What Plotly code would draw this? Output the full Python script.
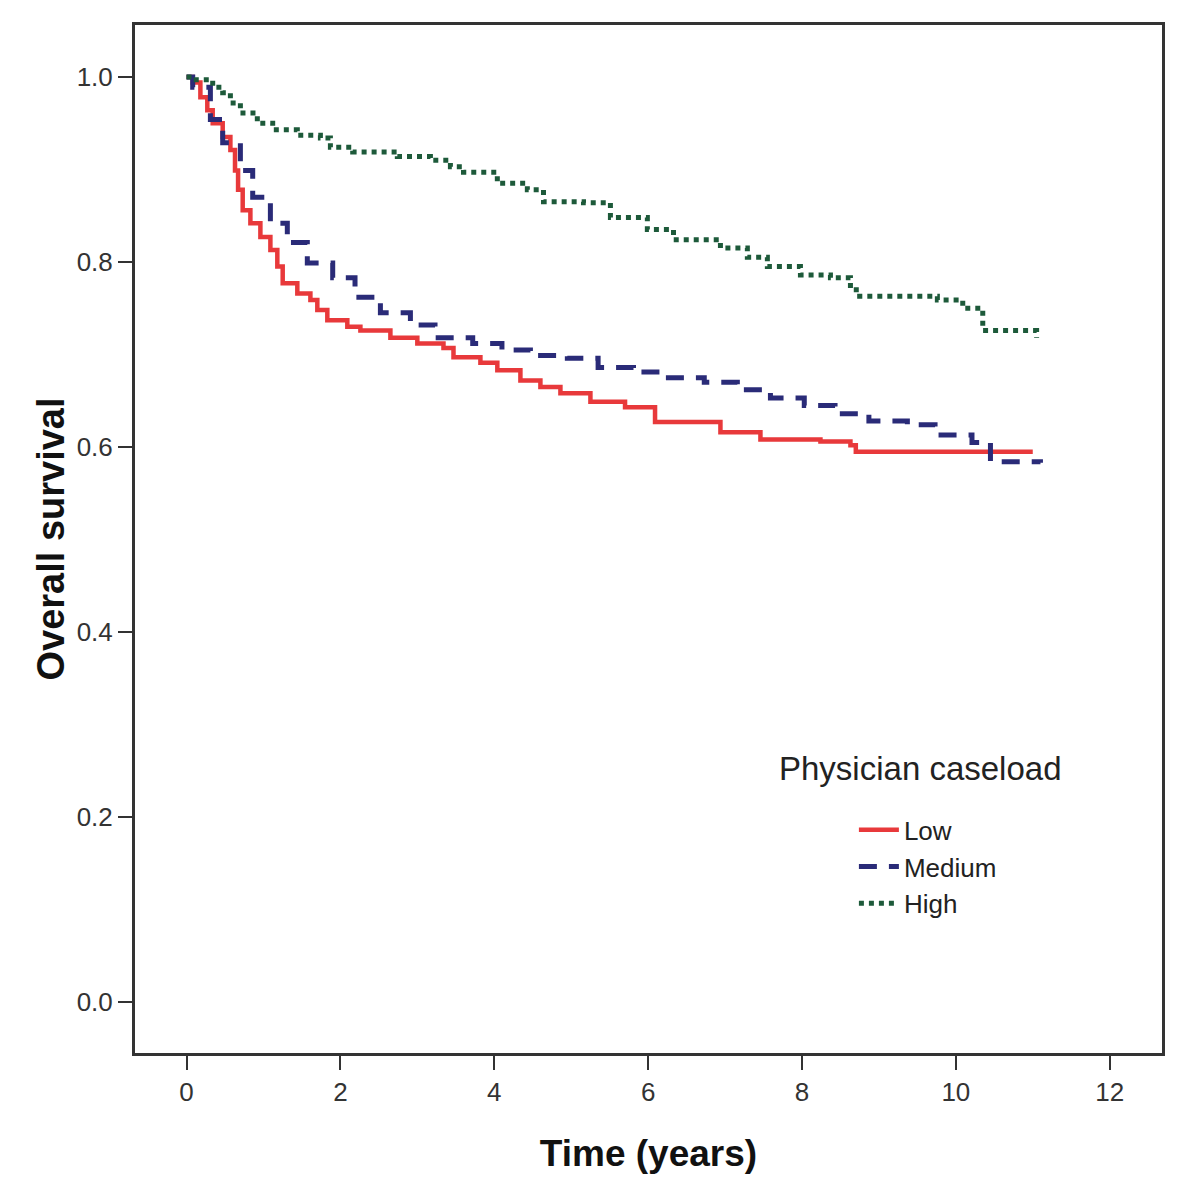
import plotly.graph_objects as go

# Kaplan-Meier style survival estimates
low_t = [0, 0.08, 0.18, 0.27, 0.34, 0.47, 0.57, 0.63, 0.67, 0.73, 0.83, 0.96, 1.09, 1.18, 1.25, 1.44, 1.61,
         1.70, 1.83, 2.09, 2.26, 2.65, 3.00, 3.34, 3.47, 3.82, 4.04, 4.34, 4.60, 4.86, 5.25, 5.70, 6.09,
         6.68, 6.94, 7.46, 8.24, 8.63, 8.70, 11.0]
low_s = [1.0, 0.994, 0.978, 0.964, 0.950, 0.935, 0.921, 0.899, 0.878, 0.856, 0.842, 0.827, 0.813, 0.795, 0.777,
         0.766, 0.759, 0.748, 0.737, 0.730, 0.726, 0.718, 0.712, 0.707, 0.697, 0.691, 0.683, 0.672, 0.665, 0.658,
         0.649, 0.643, 0.627, 0.627, 0.616, 0.608, 0.606, 0.602, 0.595, 0.595]

med_t = [0, 0.08, 0.31, 0.47, 0.70, 0.86, 1.09, 1.31, 1.57, 1.90, 2.19, 2.52, 2.91, 3.23, 3.72, 4.10, 4.47,
         4.95, 5.35, 5.81, 6.22, 6.73, 7.16, 7.59, 8.03, 8.43, 8.87, 9.37, 9.73, 10.21, 10.45, 11.1]
med_s = [1.0, 0.989, 0.954, 0.929, 0.899, 0.870, 0.842, 0.821, 0.799, 0.783, 0.762, 0.745, 0.732, 0.718, 0.712,
         0.705, 0.699, 0.696, 0.686, 0.681, 0.675, 0.670, 0.662, 0.653, 0.645, 0.636, 0.628, 0.624, 0.613, 0.605,
         0.584, 0.583]

high_t = [0, 0.08, 0.34, 0.47, 0.57, 0.70, 0.92, 1.12, 1.44, 1.74, 1.87, 2.16, 2.74, 3.17, 3.43, 3.60, 4.04,
          4.43, 4.64, 5.16, 5.51, 5.99, 6.33, 6.94, 7.29, 7.55, 7.98, 8.37, 8.63, 8.75, 9.27, 9.76, 10.09,
          10.35, 11.05]
high_s = [1.0, 0.997, 0.989, 0.983, 0.972, 0.961, 0.950, 0.943, 0.937, 0.934, 0.924, 0.919, 0.914, 0.910, 0.903,
          0.897, 0.885, 0.878, 0.865, 0.864, 0.848, 0.835, 0.824, 0.815, 0.805, 0.795, 0.786, 0.783, 0.770, 0.763,
          0.763, 0.759, 0.750, 0.726, 0.718]

series_names = ["Low", "Medium", "High"]
legend_title = "Physician caseload"
x_ticks = [0, 2, 4, 6, 8, 10, 12]
y_ticks = [0.0, 0.2, 0.4, 0.6, 0.8, 1.0]
y_tick_labels = ["0.0", "0.2", "0.4", "0.6", "0.8", "1.0"]

fig = go.Figure()
fig.add_trace(go.Scatter(x=low_t, y=low_s, name=series_names[0], mode="lines", line_shape="hv",
                         line=dict(color="#e8393b", width=4.5)))
fig.add_trace(go.Scatter(x=med_t, y=med_s, name=series_names[1], mode="lines", line_shape="hv",
                         line=dict(color="#2a2b78", width=5, dash="18px,12px")))
fig.add_trace(go.Scatter(x=high_t, y=high_s, name=series_names[2], mode="lines", line_shape="hv",
                         line=dict(color="#1d5a3a", width=5, dash="5px,5px")))

axis_common = dict(showline=True, linecolor="#333333", linewidth=3, mirror=True, showgrid=False,
                   zeroline=False, ticks="outside", ticklen=14, tickwidth=2, tickcolor="#333333")

fig.update_xaxes(range=[-0.67, 12.68], tickvals=x_ticks,
                 tickfont=dict(family="Liberation Sans", size=26, color="#333333"),
                 title=dict(text="<b>Time (years)</b>",
                            font=dict(family="Liberation Sans", size=37, color="#111111"), standoff=34),
                 **axis_common)
fig.update_yaxes(range=[-0.0551, 1.0562], tickvals=y_ticks, ticktext=y_tick_labels,
                 tickfont=dict(family="Liberation Sans", size=26, color="#333333"),
                 title=dict(text="<b>Overall survival</b>",
                            font=dict(family="Liberation Sans", size=38, color="#111111"), standoff=1),
                 **axis_common)

fig.add_annotation(text=legend_title, xref="paper", yref="paper",
                   x=(920 - 135) / 1027, y=(1053 - 768) / 1028, xanchor="center", yanchor="middle",
                   showarrow=False, font=dict(family="Liberation Sans", size=33, color="#222222"))

fig.update_layout(
    width=1192, height=1179,
    margin=dict(l=127, r=38, t=17, b=134),
    paper_bgcolor="white", plot_bgcolor="white",
    legend=dict(x=0.70, y=0.24, xanchor="left", yanchor="top",
                font=dict(family="Liberation Sans", size=26, color="#222222"),
                bgcolor="rgba(0,0,0,0)", itemwidth=40),
    showlegend=True,
)

fig.write_html("out.html")
